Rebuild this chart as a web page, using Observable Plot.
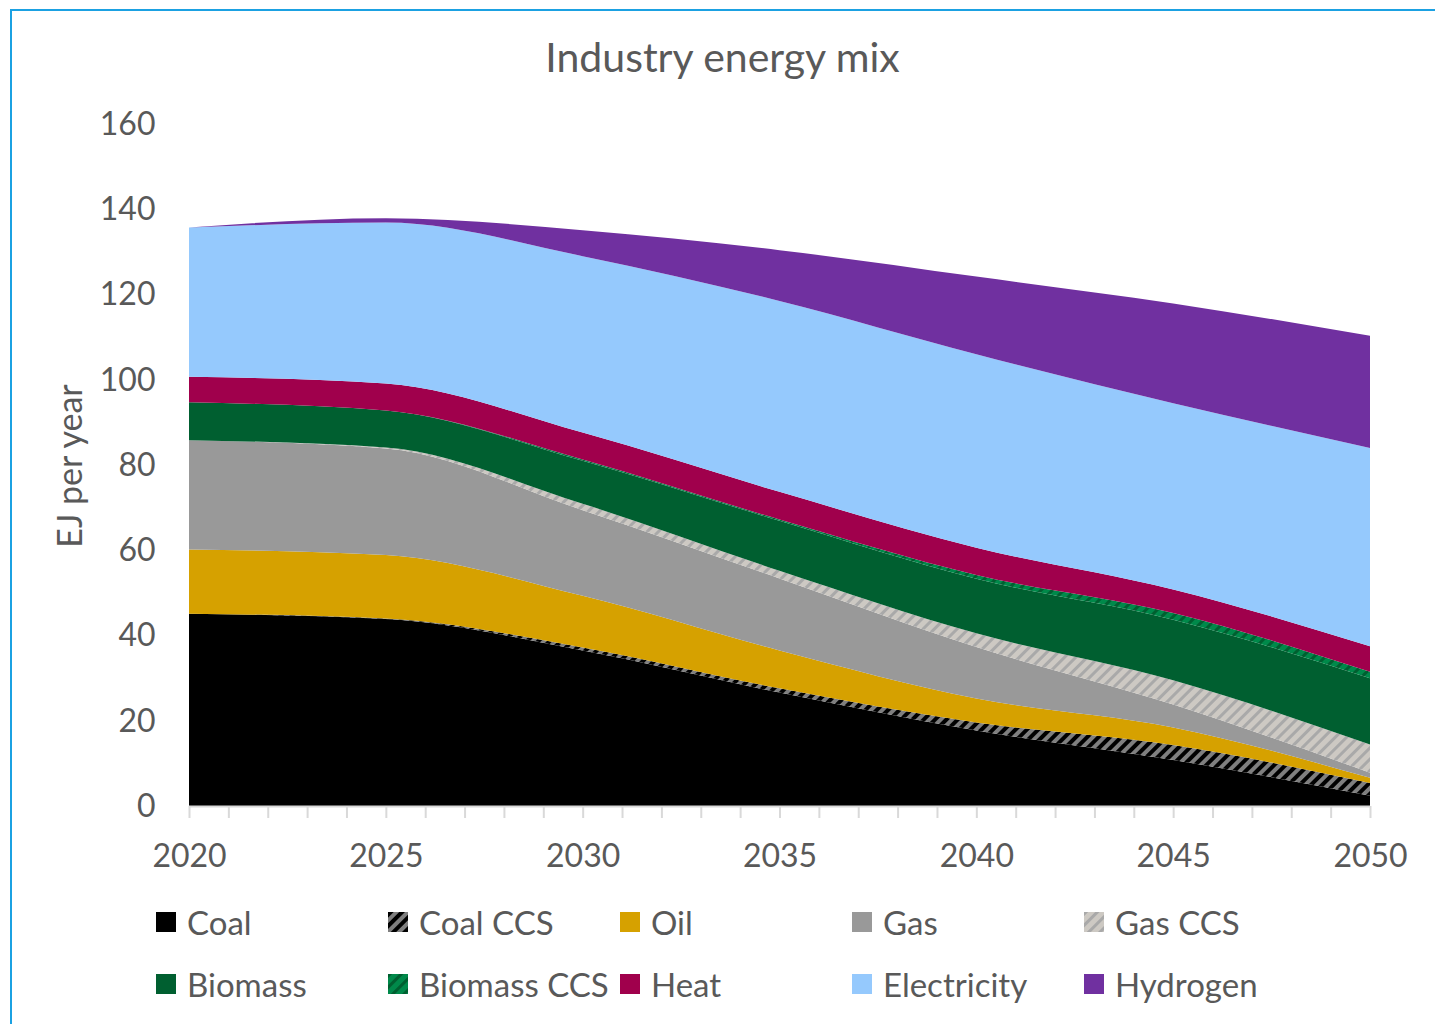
<!DOCTYPE html>
<html>
<head>
<meta charset="utf-8">
<script src="https://cdn.jsdelivr.net/npm/d3@7"></script>
<script src="https://cdn.jsdelivr.net/npm/@observablehq/plot@0.6"></script>
<style>
  html, body { margin: 0; padding: 0; background: #fff; overflow: hidden; }
  body { width: 1435px; height: 1024px; position: relative; font-family: Lato, "Open Sans", sans-serif; color: #595959; }
  #frame { position: absolute; left: 10px; top: 9px; width: 1500px; height: 1100px; border-top: 2px solid #1ba1e2; border-left: 2px solid #1ba1e2; }
  #title { position: absolute; left: 10px; width: 1425px; top: 32px; text-align: center; font-size: 41px; color: #595959; }
  #ytitle { position: absolute; left: 68px; top: 466px; transform: translate(-50%, -50%) rotate(-90deg); font-size: 34px; white-space: nowrap; color: #595959; }
  #chart { position: absolute; left: 0; top: 0; }
  .item { position: absolute; display: flex; align-items: center; height: 40px; transform: translateY(-50%); font-size: 33px; color: #595959; white-space: nowrap; }
  .item svg { margin-right: 11px; }
</style>
</head>
<body>
<svg width="0" height="0" style="position:absolute">
  <defs>
    <pattern id="pCoalCCS" patternUnits="userSpaceOnUse" width="8" height="8" patternTransform="rotate(45)">
      <rect width="8" height="8" fill="#7f7f7f"/><rect width="4" height="8" fill="#000000"/>
    </pattern>
    <pattern id="pGasCCS" patternUnits="userSpaceOnUse" width="8" height="8" patternTransform="rotate(45)">
      <rect width="8" height="8" fill="#cdc9c3"/><rect width="3" height="8" fill="#a9a9a9"/>
    </pattern>
    <pattern id="pBioCCS" patternUnits="userSpaceOnUse" width="8" height="8" patternTransform="rotate(45)">
      <rect width="8" height="8" fill="#00894a"/><rect width="3" height="8" fill="#005f30"/>
    </pattern>
  </defs>
</svg>
<div id="frame"></div>
<div id="title">Industry energy mix</div>
<div id="ytitle">EJ per year</div>
<div id="chart"></div>
<div id="legend"></div>
<script>
// ---- data (EJ per year) ----
const years       = [2020, 2025, 2030, 2035, 2040, 2045, 2050];
const coal        = [45.1, 43.9, 36.5, 26.6, 17.7, 10.8, 2.4];
const coalCCS     = [0.0, 0.1, 0.7, 1.0, 1.9, 3.5, 3.0];
const oil         = [15.1, 14.9, 12.1, 8.9, 5.6, 4.1, 1.2];
const gas         = [25.6, 25.0, 20.1, 16.9, 12.1, 5.4, 1.2];
const gasCCS      = [0.0, 0.2, 1.5, 1.8, 3.2, 5.7, 6.6];
const biomass     = [8.9, 8.7, 10.1, 11.7, 12.8, 14.2, 15.6];
const biomassCCS  = [0.0, 0.0, 0.3, 0.3, 0.9, 1.6, 1.5];
const heat        = [6.0, 6.3, 6.3, 6.5, 6.4, 5.5, 6.0];
const electricity = [35.0, 37.8, 41.4, 44.8, 45.4, 43.7, 46.5];
const hydrogen    = [0.0, 1.0, 6.1, 11.9, 18.2, 23.4, 26.3];

const seriesNames = ["Coal", "Coal CCS", "Oil", "Gas", "Gas CCS", "Biomass", "Biomass CCS", "Heat", "Electricity", "Hydrogen"];
const seriesValues = [coal, coalCCS, oil, gas, gasCCS, biomass, biomassCCS, heat, electricity, hydrogen];
const seriesFills = ["#000000", "url(#pCoalCCS)", "#d6a100", "#999999", "url(#pGasCCS)", "#005f30", "url(#pBioCCS)", "#a0004c", "#95c9fd", "#7030a0"];

const yTicks = [0, 20, 40, 60, 80, 100, 120, 140, 160];
const xLabelTicks = [2020, 2025, 2030, 2035, 2040, 2045, 2050];
const xMinorTicks = d3.range(2020, 2051, 1);

// long table built from the arrays
const data = [];
seriesNames.forEach((name, i) => {
  years.forEach((yr, j) => data.push({series: name, year: yr, value: seriesValues[i][j]}));
});

const chart = Plot.plot({
  width: 1435,
  height: 880,
  marginLeft: 189,
  marginRight: 65,
  marginTop: 124,
  marginBottom: 74,
  x: {domain: [2020, 2050]},
  y: {domain: [0, 160]},
  color: {domain: seriesNames, range: seriesFills},
  style: {fontFamily: "Lato, 'Open Sans', sans-serif", fontSize: "32px", color: "#595959", background: "transparent"},
  marks: [
    Plot.areaY(data, {x: "year", y: "value", z: "series", fill: "series", curve: "monotone-x"}),
    Plot.ruleY([0], {stroke: "#d9d9d9", strokeWidth: 2}),
    Plot.axisX({ticks: xMinorTicks, tickSize: 12, stroke: "#d9d9d9", strokeWidth: 2, tickFormat: () => "", label: null}),
    Plot.axisX({ticks: xLabelTicks, tickSize: 0, tickPadding: 38, tickFormat: "d", label: null, fill: "#595959", fontSize: 32}),
    Plot.axisY({ticks: yTicks, tickSize: 0, tickPadding: 34, tickFormat: "d", label: null, fill: "#595959", fontSize: 32})
  ]
});
document.getElementById("chart").appendChild(chart);

// legend
const legend = document.getElementById("legend");
const colX = [156, 388, 620, 852, 1084];
const rowY = [922, 984];
seriesNames.forEach((name, i) => {
  const div = document.createElement("div");
  div.className = "item";
  div.style.left = colX[i % 5] + "px";
  div.style.top = rowY[Math.floor(i / 5)] + "px";
  div.innerHTML = `<svg width="20" height="20"><rect width="20" height="20" fill="${seriesFills[i]}"/></svg><span>${name}</span>`;
  legend.appendChild(div);
});
</script>
</body>
</html>
